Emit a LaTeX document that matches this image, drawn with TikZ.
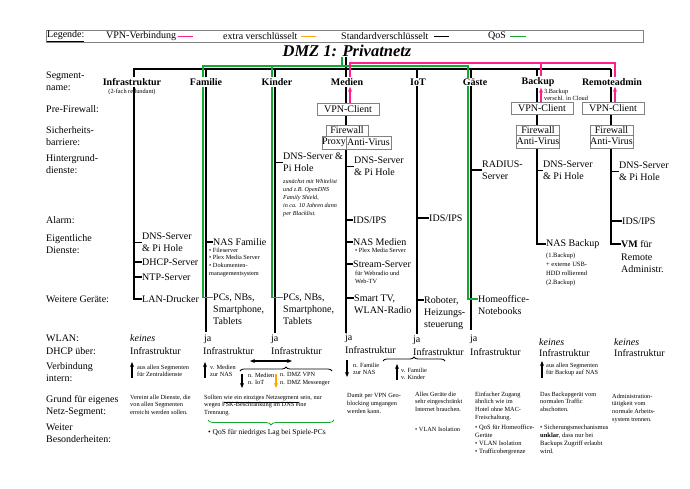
\documentclass[tikz,border=0pt]{standalone}
\usepackage{fontspec}
\setmainfont{Liberation Serif}
\usetikzlibrary{arrows.meta,decorations.pathreplacing,calc}
\definecolor{vpn}{RGB}{255,30,140}
\definecolor{xenc}{RGB}{255,165,0}
\definecolor{qos}{RGB}{20,170,50}
\definecolor{boxgray}{RGB}{130,130,130}
\pgfdeclarelayer{bg}
\pgfdeclarelayer{paper}
\pgfsetlayers{paper,bg,main}
\begin{document}
\begin{tikzpicture}[x=1pt,y=-1pt,
  T/.style={font=\fontsize{10}{12}\selectfont,inner sep=0pt,align=left},
  S/.style={font=\fontsize{6.3}{7.8}\selectfont,inner sep=0pt,align=left},
  SI/.style={font=\fontsize{6.1}{8}\selectfont\itshape,inner sep=0pt,align=left},
  seg/.style={font=\fontsize{10}{12}\selectfont\bfseries,fill=white,inner sep=1pt},
  ln/.style={line width=1.1pt},
  vpnl/.style={line width=1.1pt,draw=vpn},
  qosl/.style={line width=1.1pt,draw=qos},
  boxn/.style={draw=boxgray,line width=0.8pt,font=\fontsize{10}{12}\selectfont,inner sep=0pt,fill=white},
  arr/.style={line width=1.1pt,-{Stealth[length=5pt,width=4pt]}},
  arrv/.style={line width=1.1pt,draw=vpn,-{Stealth[length=5pt,width=4pt]}},
]
\useasboundingbox (0,0) rectangle (690,488);
\begin{pgfonlayer}{paper}
\fill[white] (0,0) rectangle (690,488);
\end{pgfonlayer}

% ---------- legend ----------
\node[draw=boxgray,line width=0.8pt,minimum width=597pt,minimum height=12pt,inner sep=0pt,anchor=north west] (legbox) at (46,30) {};
\node[T,anchor=west] (lg0) at (47,36) {\underline{Legende:}};
\node[T,anchor=west] (lg1) at (106,36) {VPN-Verbindung};
\node[T,anchor=west] (lg2) at (223,36) {extra verschlüsselt};
\node[T,anchor=west] (lg3) at (341,36) {Standardverschlüsselt};
\node[T,anchor=west] (lg4) at (488,36) {QoS};
\coordinate (lm1) at (178,36); \coordinate (lm2) at (301,36);
\coordinate (lm3) at (434,36); \coordinate (lm4) at (510,36);
\draw[vpn,line width=1pt] (lm1) -- ++(15,0);
\draw[xenc,line width=1pt] (lm2) -- ++(15,0);
\draw[black,line width=1pt] (lm3) -- ++(15,0);
\draw[qos,line width=1pt] (lm4) -- ++(16,0);

% ---------- title ----------
\node[font=\fontsize{16.5}{18}\selectfont\bfseries\itshape,inner sep=0pt] (title) at (347,51) {DMZ 1: Privatnetz};

% ---------- row labels ----------
\node[T,anchor=north west] (r1) at (46,71.5) {Segment-\\name:};
\node[T,anchor=west] (r2) at (46,109) {Pre-Firewall:};
\node[T,anchor=north west] (r3) at (46,126.5) {Sicherheits-\\barriere:};
\node[T,anchor=north west] (r4) at (46,154.5) {Hintergrund-\\dienste:};
\node[T,anchor=west] (r5) at (46,220) {Alarm:};
\node[T,anchor=north west] (r6) at (46,234.5) {Eigentliche\\Dienste:};
\node[T,anchor=west] (r7) at (46,299) {Weitere Geräte:};
\node[T,anchor=west] (r8) at (46,338) {WLAN:};
\node[T,anchor=west] (r9) at (46,351) {DHCP über:};
\node[T,anchor=north west] (r10) at (46,362.5) {Verbindung\\intern:};
\node[T,anchor=north west] (r11) at (46,395.5) {Grund für eigenes\\Netz-Segment:};
\node[T,anchor=north west] (r12) at (46,423.5) {Weiter\\Besonderheiten:};

% ---------- segment names ----------
\node[seg] (sInf) at (132,82) {Infrastruktur};
\node[S] (sInf2) at (132,91.5) {(2-fach redundant)};
\node[seg] (sFam) at (206,82) {Familie};
\node[seg] (sKin) at (277,82) {Kinder};
\node[seg] (sMed) at (347,82) {Medien};
\node[seg] (sIoT) at (418,82) {IoT};
\node[seg] (sGas) at (475,82) {Gäste};
\node[seg] (sBak) at (538,82) {Backup};
\node[seg] (sRem) at (612,82) {Remoteadmin};
\node[S,anchor=north west,font=\fontsize{6.3}{7.3}\selectfont] (cloud) at (544,88.5) {3.Backup\\verschl. in Cloud};

% ---------- boxes ----------
\node[boxn,minimum width=62pt,minimum height=12pt] (vpnM) at (348,109) {VPN-Client};
\node[boxn,minimum width=42pt,minimum height=11pt] (fwM) at (347,130.5) {Firewall};
\node[boxn,minimum width=24pt,minimum height=13pt] (pxM) at (334,142.5) {Proxy};
\node[boxn,minimum width=45pt,minimum height=13pt] (avM) at (368.5,142.5) {Anti-Virus};
\node[boxn,minimum width=62pt,minimum height=12pt] (vpnB) at (542,108) {VPN-Client};
\node[boxn,minimum width=43pt,minimum height=10.5pt] (fwB) at (538,130.25) {Firewall};
\node[boxn,minimum width=43pt,minimum height=12.5pt] (avB) at (538,141.75) {Anti-Virus};
\node[boxn,minimum width=62pt,minimum height=12pt] (vpnR) at (613,108) {VPN-Client};
\node[boxn,minimum width=43pt,minimum height=10.5pt] (fwR) at (611.5,130.25) {Firewall};
\node[boxn,minimum width=43pt,minimum height=12.5pt] (avR) at (611.5,141.75) {Anti-Virus};

% ---------- Infrastruktur ----------
\node[T,anchor=west] (dnsI) at (142,242.5) {DNS-Server\\\& Pi Hole};
\node[T,anchor=west] (dhcpI) at (142,262) {DHCP-Server};
\node[T,anchor=west] (ntpI) at (142,277) {NTP-Server};
\node[T,anchor=west] (lanI) at (142,299) {LAN-Drucker};

% ---------- Familie ----------
\node[T,anchor=west] (nasF) at (213,242) {NAS Familie};
\node[S,anchor=north west] (bulF) at (209,247.6) {• Fileserver\\• Plex Media Server\\• Dokumenten-\\managementsystem};
\node[T,anchor=north west] (pcsF) at (213,294) {PCs, NBs,\\Smartphone,\\Tablets};

% ---------- Kinder ----------
\node[T,anchor=west] (dnsK) at (283,162.5) {DNS-Server \&\\Pi Hole};
\node[SI,anchor=north west] (dnsK2) at (283,179.5) {zunächst mit Whitelist\\und z.B. OpenDNS\\Family Shield,\\in ca. 10 Jahren dann\\per Blacklist.};
\node[T,anchor=north west] (pcsK) at (283,294) {PCs, NBs,\\Smartphone,\\Tablets};

% ---------- Medien ----------
\node[T,anchor=west] (dnsM) at (354,166.5) {DNS-Server\\\& Pi Hole};
\node[T,anchor=west] (idsM) at (353,220) {IDS/IPS};
\node[T,anchor=west] (nasM) at (353,242) {NAS Medien};
\node[S,anchor=north west] (nasM2) at (355,247.6) {• Plex Media Server};
\node[T,anchor=west] (strM) at (353,264) {Stream-Server};
\node[S,anchor=north west] (strM2) at (355,270.6) {für Webradio und\\Web-TV};
\node[T,anchor=north west] (smtM) at (354,294.5) {Smart TV,\\WLAN-Radio};

% ---------- IoT ----------
\node[T,anchor=west] (idsI) at (429,218) {IDS/IPS};
\node[T,anchor=north west] (robI) at (424,296.5) {Roboter,\\Heizungs-\\steuerung};

% ---------- Gaeste ----------
\node[T,anchor=west] (radG) at (482,170) {RADIUS-\\Server};
\node[T,anchor=north west] (homeG) at (478,295.5) {Homeoffice-\\Notebooks};

% ---------- Backup ----------
\node[T,anchor=west] (dnsB) at (543,170.5) {DNS-Server\\\& Pi Hole};
\node[T,anchor=west] (nasB) at (546,244) {NAS Backup};
\node[S,anchor=north west,font=\fontsize{6.5}{9}\selectfont] (nasB2) at (546,252.4) {(1.Backup)\\+ externe USB-\\HDD rollierend\\(2.Backup)};

% ---------- Remoteadmin ----------
\node[T,anchor=west] (dnsR) at (619,171.5) {DNS-Server\\\& Pi Hole};
\node[T,anchor=west] (idsR) at (622,221) {IDS/IPS};
\node[T,anchor=north west,font=\fontsize{10}{12.5}\selectfont] (vmR) at (621,240.5) {\textbf{VM} für\\Remote\\Administr.};

% ---------- WLAN / DHCP ----------
\node[T,anchor=west] (w1) at (130,338) {\textit{keines}};
\node[T,anchor=west] (d1) at (130,351) {Infrastruktur};
\node[T,anchor=west] (w2) at (204,339) {ja};
\node[T,anchor=west] (d2) at (203,351) {Infrastruktur};
\node[T,anchor=west] (w3) at (271,339) {ja};
\node[T,anchor=west] (d3) at (271,351) {Infrastruktur};
\node[T,anchor=west] (w4) at (345,338) {ja};
\node[T,anchor=west] (d4) at (345,350) {Infrastruktur};
\node[T,anchor=west] (w5) at (413,340) {ja};
\node[T,anchor=west] (d5) at (413,352) {Infrastruktur};
\node[T,anchor=west] (w6) at (470,339) {ja};
\node[T,anchor=west] (d6) at (470,352) {Infrastruktur};
\node[T,anchor=west] (w7) at (539,342) {\textit{keines}};
\node[T,anchor=west] (d7) at (539,353) {Infrastruktur};
\node[T,anchor=west] (w8) at (614,342) {\textit{keines}};
\node[T,anchor=west] (d8) at (614,353) {Infrastruktur};

% ---------- Verbindung intern ----------
\node[S,anchor=north west] (v1) at (137,364.5) {aus allen Segmenten\\für Zentraldienste};
\node[S,anchor=north west] (v2) at (210,364.5) {v. Medien\\zur NAS};
\node[S,anchor=north west] (v3) at (248,372.5) {n. Medien\\n. IoT};
\node[S,anchor=north west] (v4) at (280,372.5) {n. DMZ VPN\\n. DMZ Messenger};
\node[S,anchor=north west] (v5) at (353,362.5) {n. Familie\\zur NAS};
\node[S,anchor=north west] (v6) at (401,367.5) {v. Familie\\v. Kinder};
\node[S,anchor=north west] (v7) at (546,362.5) {aus allen Segmenten\\für Backup auf NAS};
\coordinate (a1) at (132,378); \coordinate (a1e) at (132,362);
\coordinate (a2) at (205,378); \coordinate (a2e) at (205,362);
\coordinate (a3) at (242,374); \coordinate (a3e) at (242,388);
\coordinate (a4) at (276,374); \coordinate (a4e) at (276,388);
\coordinate (a5) at (347,360); \coordinate (a5e) at (347,377);
\coordinate (a6) at (397,380); \coordinate (a6e) at (397,364);
\coordinate (a7) at (542,378); \coordinate (a7e) at (542,361);
\coordinate (hb1) at (250,361); \coordinate (hb2) at (292,361);
\draw[arr] (a1) -- (a1e);
\draw[arr] (a2) -- (a2e);
\draw[arr] (a3) -- (a3e);
\draw[arr,draw=xenc] (a4) -- (a4e);
\draw[arr] (a5) -- (a5e);
\draw[arr] (a6) -- (a6e);
\draw[arr] (a7) -- (a7e);
\draw[line width=1.1pt,{Stealth[length=5pt,width=4pt]}-{Stealth[length=5pt,width=4pt]}] (hb1) -- (hb2);
\coordinate (br1) at (240,371); \coordinate (br2) at (332,371);
\coordinate (br3) at (383,361); \coordinate (br4) at (445,361);
\draw[line width=0.8pt,decorate,decoration={brace,amplitude=4pt}] (br1) -- (br2);
\draw[line width=0.8pt,decorate,decoration={brace,amplitude=4pt}] (br3) -- (br4);

% ---------- Grund ----------
\node[S,anchor=north west] (g1) at (130,394.5) {Vereint alle Dienste, die\\von allen Segmenten\\erreicht werden sollen.};
\node[S,anchor=north west] (g2) at (204,394.5) {Sollten \underline{wie ein einziges Netzsegment} sein, nur\\wegen FSK-Beschränkung im DNS eine\\Trennung.};
\node[S,anchor=north west] (g3) at (347,393.5) {Damit per VPN Geo-\\blocking umgangen\\werden kann.};
\node[S,anchor=north west] (g4) at (415,391.5) {Alles Geräte die\\sehr eingeschränkt\\Internet brauchen.};
\node[S,anchor=north west] (g5) at (475,391.5) {Einfacher Zugang\\ähnlich wie im\\Hotel ohne MAC-\\Freischaltung.};
\node[S,anchor=north west] (g6) at (540,391.5) {Das Backupgerät vom\\normalen Traffic\\abschotten.};
\node[S,anchor=north west] (g7) at (612,393.5) {Administration-\\tätigkeit vom\\normale Arbeits-\\system trennen.};

% ---------- Weiter ----------
\coordinate (gb1) at (208,420); \coordinate (gb2) at (334,420);
\draw[qos,line width=0.8pt,decorate,decoration={brace,mirror,amplitude=5pt}] (gb1) -- (gb2);
\node[T,anchor=west,font=\fontsize{7.5}{9}\selectfont] (b1) at (208,433) {• QoS für niedriges Lag bei Spiele-PCs};
\node[S,anchor=west] (b2) at (415,429) {• VLAN Isolation};
\node[S,anchor=north west,font=\fontsize{6.5}{8}\selectfont] (b3) at (475,424.5) {• QoS für Homeoffice-\\Geräte\\• VLAN Isolation\\• Trafficobergrenze};
\node[S,anchor=north west,font=\fontsize{6.5}{8}\selectfont] (b4) at (540,424.5) {• Sicherungsmechanismus\\\textbf{unklar}, dass nur bei\\Backups Zugriff erlaubt\\wird.};

% ---------- connectors (background) ----------
\coordinate (infB) at (134,69);
\coordinate (remB) at (611,69);
\coordinate (famB) at (206,69); \coordinate (famE) at (206,332);
\coordinate (kinB) at (275,69); \coordinate (kinE) at (275,333);
\coordinate (medT) at (346,57); \coordinate (medE) at (346,333);
\coordinate (iotB) at (417,69); \coordinate (iotE) at (417,334);
\coordinate (gasB) at (471,69); \coordinate (gasE) at (471,330);
\coordinate (bakB) at (537,69);
\coordinate (famG) at (203,66); \coordinate (kinG) at (272,66); \coordinate (gasG) at (468,66);
\coordinate (medG) at (342,57);
\coordinate (medV) at (350,63); \coordinate (bakV) at (541,63); \coordinate (remV) at (615,63);
\coordinate (pcsFP) at ($(pcsF.north west)+(0,3.5)$);
\coordinate (pcsKP) at ($(pcsK.north west)+(0,3.5)$);
\coordinate (smtMP) at ($(smtM.north west)+(0,3.5)$);
\coordinate (robIP) at ($(robI.north west)+(0,3.5)$);
\coordinate (homeGP) at ($(homeG.north west)+(0,3.5)$);
\coordinate (vmRP) at ($(vmR.north west)+(0,3.5)$);

\begin{pgfonlayer}{bg}
% black bus and Infrastruktur
\draw[ln] (lanI.west) -| (infB) -- (remB);
\draw[ln] (infB |- dnsI.west) -- (dnsI.west);
\draw[ln] (infB |- dhcpI.west) -- (dhcpI.west);
\draw[ln] (infB |- ntpI.west) -- (ntpI.west);
% Familie
\draw[ln] (famB) -- (famE);
\draw[ln] (famB |- nasF.west) -- (nasF.west);
% Kinder
\draw[ln] (kinB) -- (kinE);
\draw[ln] (kinB |- dnsK.west) -- (dnsK.west);
% Medien
\draw[ln] (medT) -- (medT |- vpnM.north);
\draw[ln] (medT |- vpnM.south) -- (medT |- fwM.north);
\draw[ln] (medT |- pxM.south) -- (medE);
\draw[ln] (medT |- dnsM.west) -- (dnsM.west);
\draw[ln] (medT |- idsM.west) -- (idsM.west);
\draw[ln] (medT |- nasM.west) -- (nasM.west);
\draw[ln] (medT |- strM.west) -- (strM.west);
\draw[ln] (medT |- smtMP) -- (smtMP);
% IoT
\draw[ln] (iotB) -- (iotE);
\draw[ln] (iotB |- idsI.west) -- (idsI.west);
\draw[ln] (iotB |- robIP) -- (robIP);
% Gaeste
\draw[ln] (gasB) -- (gasE);
\draw[ln] (gasB |- radG.west) -- (radG.west);
% Backup
\draw[ln] (bakB) -- (bakB |- vpnB.north);
\draw[ln] (bakB |- vpnB.south) -- (bakB |- fwB.north);
\draw[ln] (bakB |- avB.south) |- (nasB.west);
\draw[ln] (bakB |- dnsB.west) -- (dnsB.west);
% Remoteadmin
\draw[ln] (remB) -- (remB |- vpnR.north);
\draw[ln] (remB |- vpnR.south) -- (remB |- fwR.north);
\draw[ln] (remB |- avR.south) |- (vmRP);
\draw[ln] (remB |- dnsR.west) -- (dnsR.west);
\draw[ln] (remB |- idsR.west) -- (idsR.west);
% QoS
\draw[qosl] (pcsFP) -| (famG) -- (gasG) |- (homeGP);
\draw[qosl] (kinG) |- (pcsKP);
\draw[qosl] (medG) -- (medG |- famG);
% VPN
\draw[vpnl] (medV |- sMed.center) -- (medV) -- (remV) -- (remV |- sRem.center);
\draw[vpnl] (bakV) -- (bakV |- sBak.center);
\draw[arrv] (medV |- vpnM.north) -- (medV |- sMed.south);
\draw[arrv] (bakV |- vpnB.north) -- (bakV |- sBak.south);
\draw[arrv] (remV |- vpnR.north) -- (remV |- sRem.south);
\end{pgfonlayer}
\end{tikzpicture}
\end{document}
